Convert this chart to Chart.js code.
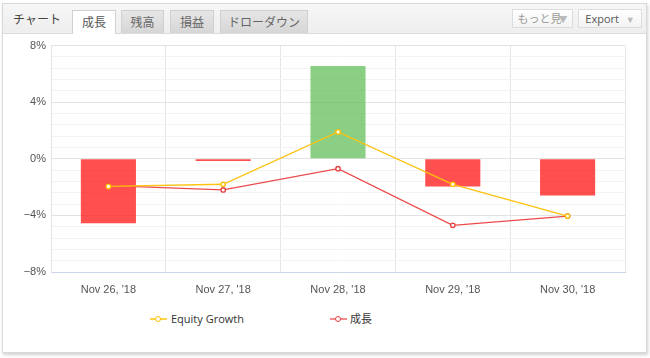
<!DOCTYPE html>
<html><head><meta charset="utf-8">
<script src="https://cdn.jsdelivr.net/npm/chart.js@4"></script>
<style>
html,body{margin:0;padding:0;background:#fff;width:650px;height:358px;overflow:hidden;font-family:"Open Sans","Noto Sans CJK JP",sans-serif;}
#panel{position:absolute;left:2px;top:3px;width:643px;height:348px;border:1px solid #d9d9d9;box-shadow:1px 2px 3px rgba(0,0,0,0.18);background:#fff;}
#head{position:absolute;left:0;top:0;width:643px;height:29px;background:linear-gradient(#f6f6f6,#eeeeee);border-bottom:1px solid #dcdcdc;}
.t{position:absolute;font-size:12px;font-family:"Noto Sans CJK JP",sans-serif;color:#444;line-height:22px;text-align:center;}
.tab{top:7px;height:22px;border:1px solid #d0d0d0;border-bottom:none;background:linear-gradient(#e6e6e6,#d6d6d6);color:#666;}
.tab.act{background:#fff;color:#555;height:23px;}
.btn{top:6px;height:17px;line-height:17px;border:1px solid #dcdcdc;background:linear-gradient(#ffffff,#f3f3f3);color:#999;font-size:11px;}
#chartWrap{position:absolute;left:3px;top:34px;width:642px;height:272px;}
#legend{position:absolute;top:311px;left:0;width:650px;height:16px;font-size:11px;color:#333;font-family:"Open Sans","Noto Sans CJK JP",sans-serif;}
.li{position:absolute;top:0;height:16px;line-height:16px;}
.sym{position:absolute;top:7px;width:17px;height:2px;}
.dot{position:absolute;top:-2px;left:5px;width:4px;height:4px;border-radius:50%;background:#fff;border:1px solid;}
</style></head>
<body>
<div id="panel">
  <div id="head"></div>
</div>
<div class="t" style="left:13px;top:8px;">チャート</div>
<div class="t tab act" style="left:72px;width:42px;top:10px;">成長</div>
<div class="t tab" style="left:121px;width:41px;top:10px;">残高</div>
<div class="t tab" style="left:170px;width:42px;top:10px;">損益</div>
<div class="t tab" style="left:220px;width:86px;top:10px;">ドローダウン</div>
<div class="t btn" style="left:512px;width:59px;top:9px;">もっと見<span style="color:#bbb;font-size:9px;margin-left:-3px">▼</span></div>
<div class="t btn" style="left:578px;width:62px;top:9px;font-family:'Open Sans',sans-serif;color:#555;">Export <span style="color:#bbb;font-size:9px;margin-left:4px">▼</span></div>
<div id="chartWrap"><canvas id="c"></canvas></div>
<div id="legend">
  <div class="li" style="left:150px;"><div class="sym" style="left:0;background:#ffd24d;"><div class="dot" style="border-color:#ffc000"></div></div><span style="margin-left:21px">Equity Growth</span></div>
  <div class="li" style="left:330px;"><div class="sym" style="left:0;background:#f58a8a;"><div class="dot" style="border-color:#e84040"></div></div><span style="margin-left:20px">成長</span></div>
</div>
<script>
const categories = ["Nov 26, '18", "Nov 27, '18", "Nov 28, '18", "Nov 29, '18", "Nov 30, '18"];
const barValues = [-4.55, -0.15, 6.55, -1.95, -2.6];
const equityGrowth = [-1.95, -1.8, 1.9, -1.8, -4.05];
const growth = [-1.9, -2.2, -0.7, -4.7, -4.05];
const yTicks = {min: -8, max: 8, step: 0.8, labelEvery: 4};

const barColors = barValues.map(v => v >= 0 ? 'rgba(88,186,80,0.7)' : 'rgba(255,20,20,0.75)');

new Chart(document.getElementById('c'), {
  data: {
    labels: categories,
    datasets: [
      {type:'line', label:'Equity Growth', data: equityGrowth, borderColor:'#ffc20e', borderWidth:1.3,
       pointRadius:2.2, pointBackgroundColor:'#fff', pointBorderColor:'#ffc000', pointBorderWidth:1.3, tension:0, order:1},
      {type:'line', label:'成長', data: growth, borderColor:'#ec4a4a', borderWidth:1.3,
       pointRadius:2.2, pointBackgroundColor:'#fff', pointBorderColor:'#e84040', pointBorderWidth:1.3, tension:0, order:2},
      {type:'bar', label:'bars', data: barValues, backgroundColor: barColors, barPercentage:0.48, categoryPercentage:1, order:3}
    ]
  },
  options: {
    responsive:true, maintainAspectRatio:false, animation:false,
    layout:{padding:{top:10,right:20,left:0,bottom:0}},
    plugins:{legend:{display:false}, tooltip:{enabled:false}},
    scales:{
      x:{
        grid:{offset:true, color:'#e6e6e6', drawTicks:false},
        border:{color:'#ccd6eb'},
        ticks:{padding:11, color:'#555', font:{family:'"Liberation Sans", Arial, sans-serif', size:11}, maxRotation:0},
        afterFit:(s)=>{s.height=34;}
      },
      y:{
        min:yTicks.min, max:yTicks.max,
        grid:{drawTicks:false, color:(ctx)=>{const v=Math.round(ctx.tick.value*10)/10; return Math.abs(v)%yTicks.labelEvery===0 ? '#e3e3e3' : '#f3f3f3';}},
        border:{color:'#e3e3e3'},
        ticks:{stepSize:yTicks.step, autoSkip:false, padding:5, color:'#555', font:{family:'"Liberation Sans", Arial, sans-serif', size:11},
          callback:(v)=>{const r=Math.round(v*10)/10; return Math.abs(r)%yTicks.labelEvery===0 ? (r<0?'\u2212'+Math.abs(r):r)+'%' : '';}},
        afterFit:(s)=>{s.width=48;}
      }
    }
  }
});
</script>
</body></html>
